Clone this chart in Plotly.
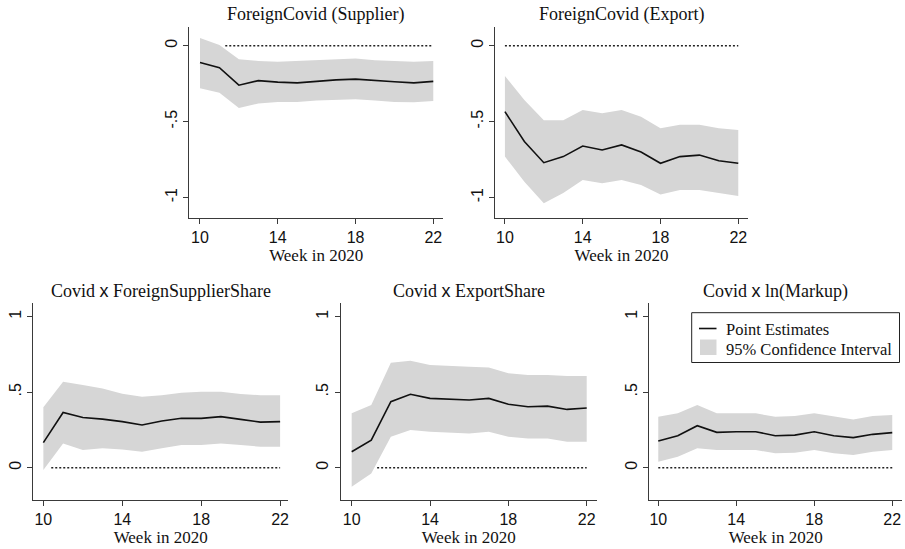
import plotly.graph_objects as go

weeks = list(range(10, 23))

titles = ["ForeignCovid (Supplier)", "ForeignCovid (Export)",
          "Covid <span style='font-family:Liberation Sans'>x</span> ForeignSupplierShare",
          "Covid <span style='font-family:Liberation Sans'>x</span> ExportShare",
          "Covid <span style='font-family:Liberation Sans'>x</span> ln(Markup)"]

est_supplier = [-0.11, -0.145, -0.26, -0.23, -0.24, -0.245, -0.235, -0.225, -0.22, -0.23, -0.237, -0.245, -0.235]
up_supplier = [0.05, 0.005, -0.09, -0.10, -0.105, -0.10, -0.095, -0.09, -0.085, -0.095, -0.10, -0.105, -0.10]
lo_supplier = [-0.28, -0.31, -0.41, -0.38, -0.37, -0.37, -0.36, -0.357, -0.353, -0.36, -0.37, -0.373, -0.364]

est_export = [-0.434, -0.63, -0.77, -0.73, -0.66, -0.686, -0.653, -0.70, -0.774, -0.73, -0.72, -0.757, -0.774]
up_export = [-0.20, -0.357, -0.49, -0.49, -0.423, -0.445, -0.423, -0.467, -0.544, -0.52, -0.52, -0.544, -0.555]
lo_export = [-0.73, -0.895, -1.037, -0.97, -0.884, -0.905, -0.884, -0.917, -0.98, -0.95, -0.95, -0.97, -0.99]

est_fss = [0.166, 0.366, 0.333, 0.322, 0.305, 0.283, 0.309, 0.327, 0.327, 0.338, 0.32, 0.302, 0.305]
up_fss = [0.40, 0.57, 0.547, 0.525, 0.49, 0.47, 0.48, 0.497, 0.503, 0.503, 0.488, 0.48, 0.48]
lo_fss = [-0.015, 0.16, 0.117, 0.128, 0.12, 0.106, 0.128, 0.15, 0.15, 0.16, 0.15, 0.139, 0.139]

est_es = [0.106, 0.183, 0.437, 0.486, 0.459, 0.453, 0.448, 0.459, 0.42, 0.404, 0.408, 0.386, 0.395]
up_es = [0.36, 0.415, 0.695, 0.709, 0.68, 0.673, 0.669, 0.664, 0.625, 0.614, 0.614, 0.607, 0.607]
lo_es = [-0.126, -0.038, 0.205, 0.25, 0.238, 0.232, 0.227, 0.238, 0.205, 0.194, 0.194, 0.172, 0.172]

est_mk = [0.177, 0.212, 0.278, 0.234, 0.238, 0.238, 0.212, 0.216, 0.238, 0.212, 0.199, 0.221, 0.232]
up_mk = [0.338, 0.36, 0.415, 0.36, 0.36, 0.36, 0.338, 0.342, 0.36, 0.338, 0.32, 0.342, 0.349]
lo_mk = [0.04, 0.073, 0.128, 0.117, 0.117, 0.117, 0.095, 0.099, 0.117, 0.095, 0.084, 0.106, 0.117]

zero_line_start = [11.3, 10, 10.4, 11.3, 10]
zero_line_end = 22

x_ticks = [10, 14, 18, 22]
y_ticks_top = [0, -0.5, -1]
y_ticklabels_top = ["0", "-.5", "-1"]
y_ticks_bot = [0, 0.5, 1]
y_ticklabels_bot = ["0", ".5", "1"]

legend_labels = ["Point Estimates", "95% Confidence Interval"]

estimates = [est_supplier, est_export, est_fss, est_es, est_mk]
uppers = [up_supplier, up_export, up_fss, up_es, up_mk]
lowers = [lo_supplier, lo_export, lo_fss, lo_es, lo_mk]

W, H = 905, 549
# pixel boxes (left, right, top, bottom) and axis ranges
boxes = [(189.3, 443, 26.7, 218), (495, 748, 26.7, 218),
         (33.3, 288, 303.3, 500), (340.7, 596.7, 303.3, 500), (649.3, 902, 303.3, 500)]
xranges = [[9.45, 22.5], [9.49, 22.5], [9.49, 22.4], [9.44, 22.51], [9.54, 22.5]]
yranges = [[-1.134, 0.125], [-1.134, 0.125], [-0.214, 1.089], [-0.214, 1.089], [-0.214, 1.089]]

band_color = "#d6d6d6"
line_color = "#111111"
axis_color = "#3a3a3a"
serif = "Liberation Serif"
sans = "Liberation Sans"

fig = go.Figure()
layout = dict(width=W, height=H, margin=dict(l=0, r=0, t=0, b=0),
              plot_bgcolor="white", paper_bgcolor="white", showlegend=False)
annotations = []
shapes = []

for i in range(5):
    n = "" if i == 0 else str(i + 1)
    xa, ya = "x" + n, "y" + n
    fig.add_trace(go.Scatter(x=weeks, y=uppers[i], mode="lines", line=dict(width=0, color=band_color),
                             xaxis=xa, yaxis=ya, hoverinfo="skip"))
    fig.add_trace(go.Scatter(x=weeks, y=lowers[i], mode="lines", line=dict(width=0, color=band_color),
                             fill="tonexty", fillcolor=band_color, xaxis=xa, yaxis=ya,
                             name=legend_labels[1]))
    fig.add_trace(go.Scatter(x=[zero_line_start[i], zero_line_end], y=[0, 0], mode="lines",
                             line=dict(color="#222222", width=1.4, dash="2px,2px"),
                             xaxis=xa, yaxis=ya, hoverinfo="skip"))
    fig.add_trace(go.Scatter(x=weeks, y=estimates[i], mode="lines", line=dict(color=line_color, width=1.6),
                             xaxis=xa, yaxis=ya, name=legend_labels[0]))

    l, r, t, b = boxes[i]
    top = i < 2
    layout["xaxis" + n] = dict(domain=[l / W, r / W], range=xranges[i], anchor=ya,
                               tickvals=x_ticks, ticks="outside", ticklen=5, tickwidth=1,
                               tickcolor=axis_color, showline=True, linecolor=axis_color, linewidth=1,
                               showgrid=False, zeroline=False,
                               tickfont=dict(family=sans, size=16, color="#111"),
                               title=dict(text="Week in 2020", standoff=0,
                                          font=dict(family=serif, size=17, color="#111")))
    layout["yaxis" + n] = dict(domain=[1 - b / H, 1 - t / H], range=yranges[i], anchor=xa,
                               tickvals=y_ticks_top if top else y_ticks_bot,
                               ticktext=y_ticklabels_top if top else y_ticklabels_bot,
                               tickangle=-90, ticks="outside", ticklen=5, tickwidth=1,
                               tickcolor=axis_color, showline=True, linecolor=axis_color, linewidth=1,
                               showgrid=False, zeroline=False,
                               tickfont=dict(family=sans, size=16, color="#111"))
    annotations.append(dict(text=titles[i], x=(l + r) / 2 / W, y=1 - (t - 12) / H,
                            xref="paper", yref="paper", showarrow=False,
                            xanchor="center", yanchor="middle",
                            font=dict(family=serif, size=18, color="#111")))

# legend box drawn in the last panel (paper coordinates)
lx0, lx1, ly0, ly1 = 691.7, 899.5, 312.7, 362.5
shapes.append(dict(type="rect", xref="paper", yref="paper", x0=lx0 / W, x1=lx1 / W,
                   y0=1 - ly1 / H, y1=1 - ly0 / H, line=dict(color="#222", width=1),
                   fillcolor="white", layer="above"))
shapes.append(dict(type="line", xref="paper", yref="paper", x0=699 / W, x1=716.5 / W,
                   y0=1 - 328.5 / H, y1=1 - 328.5 / H, line=dict(color=line_color, width=1.6),
                   layer="above"))
shapes.append(dict(type="rect", xref="paper", yref="paper", x0=700 / W, x1=716.5 / W,
                   y0=1 - 355 / H, y1=1 - 339.5 / H, line=dict(width=0),
                   fillcolor=band_color, layer="above"))
for lab, yy in zip(legend_labels, [329, 349.3]):
    annotations.append(dict(text=lab, x=723.5 / W, y=1 - yy / H, xref="paper", yref="paper",
                            showarrow=False, xanchor="left", yanchor="middle",
                            font=dict(family=serif, size=16.5, color="#111")))

layout["annotations"] = annotations
layout["shapes"] = shapes
fig.update_layout(**layout)
fig.write_html("out.html")
